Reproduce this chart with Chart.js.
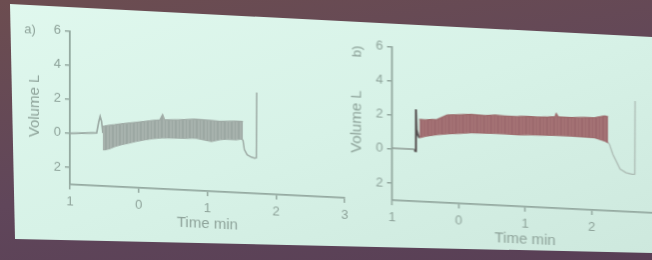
<!DOCTYPE html>
<html>
<head>
    <meta charset="utf-8" />
    <title>Volume vs time</title>
    <style>
        html, body {
            margin: 0;
            padding: 0;
            width: 652px;
            height: 260px;
            overflow: hidden;
        }
        body {
            position: relative;
            background: linear-gradient(170deg, #6c4d50 0%, #60465a 55%, #583f55 100%);
        }
        #slide {
            position: absolute;
            left: 0; top: 0;
            width: 652px; height: 260px;
            background: linear-gradient(160deg, #e0f8ee 0%, #d7f2e7 50%, #cde8dd 100%);
            clip-path: polygon(10px 4px, 652px 37px, 652px 253px, 15px 239px);
        }
        #plots {
            position: absolute;
            left: 0; top: 0;
            width: 652px; height: 260px;
            transform-origin: 0 0;
            transform: skewY(2.8deg);
            filter: blur(0.5px);
        }
        .box { position: absolute; top: 0; height: 250px; }
        #boxA { left: 0; width: 360px; }
        #boxB { left: 322px; width: 346px; }
    </style>
</head>

<body>
    <div id="slide"></div>
    <div id="plots">
        <div id="boxA" class="box"><canvas id="chartA"></canvas></div>
        <div id="boxB" class="box"><canvas id="chartB"></canvas></div>
    </div>

<script src="https://cdn.jsdelivr.net/npm/chart.js@4.4.0/dist/chart.umd.min.js"></script>
<script>
    // axes (same for both panels)
    var xTicks = [-1, 0, 1, 2, 3];
    var xTickLabels = ['1', '0', '1', '2', '3'];
    var yTicks = [-2, 0, 2, 4, 6];
    var yTickLabels = ['2', '0', '2', '4', '6'];

    // panel a) - grey trace
    var timeA_pre = [-1, -0.61, -0.58, -0.56, -0.54, -0.52];
    var volA_pre = [0.0, 0.1, 0.75, 1.07, 0.8, 0.1];
    var timeA_band = [-0.52, -0.49, -0.42, -0.35, -0.25, -0.15, -0.05, 0.09, 0.2, 0.31, 0.35, 0.38, 0.42, 0.58, 0.7, 0.82, 0.95, 1.06, 1.18, 1.3, 1.42, 1.5, 1.52];
    var volA_upper = [0.5, 0.52, 0.58, 0.62, 0.7, 0.76, 0.82, 0.91, 0.98, 1.04, 1.36, 1.05, 1.06, 1.1, 1.14, 1.19, 1.17, 1.16, 1.13, 1.15, 1.18, 1.19, 1.18];
    var volA_lower = [-0.87, -0.87, -0.78, -0.65, -0.52, -0.41, -0.3, -0.17, -0.08, -0.02, 0.0, 0.0, 0.01, 0.03, 0.05, 0.08, 0.0, -0.07, 0.05, 0.12, 0.1, 0.16, 0.1];
    var timeA_post = [1.52, 1.54, 1.58, 1.64, 1.69, 1.715, 1.72];
    var volA_post = [0.1, -0.45, -0.75, -0.88, -0.93, -0.9, 2.92];

    // panel b) - red trace
    var timeB_pre = [-1, -0.7, -0.66];
    var volB_pre = [0.05, 0.05, 0.05];
    var timeB_spike = [-0.66, -0.65, -0.64, -0.63, -0.61, -0.59];
    var volB_spike = [0.05, -0.06, 2.39, 1.2, 0.9, 0.74];
    var timeB_band = [-0.59, -0.5, -0.4, -0.32, -0.17, 0.0, 0.19, 0.4, 0.55, 0.69, 0.9, 1.05, 1.19, 1.35, 1.45, 1.47, 1.5, 1.7, 1.9, 2.05, 2.2, 2.25];
    var volB_upper = [1.81, 1.8, 1.84, 1.86, 2.15, 2.2, 2.26, 2.22, 2.28, 2.25, 2.27, 2.3, 2.29, 2.32, 2.35, 2.54, 2.36, 2.36, 2.4, 2.42, 2.55, 2.5];
    var volB_lower = [0.74, 0.85, 0.92, 0.98, 1.05, 1.12, 1.18, 1.2, 1.22, 1.22, 1.2, 1.23, 1.24, 1.26, 1.27, 1.27, 1.28, 1.28, 1.26, 1.25, 1.08, 1.0];
    var timeB_post = [2.25, 2.27, 2.32, 2.43, 2.52, 2.61, 2.65, 2.655];
    var volB_post = [1.0, 0.9, 0.33, -0.53, -0.72, -0.79, -0.78, 3.51];

    var axisColor = '#94a9a0';
    var textColor = '#8ea39a';
    var fontFamily = '"Liberation Sans", Arial, sans-serif';

    function pts(xs, ys) {
        return xs.map(function (x, i) { return { x: x, y: ys[i] }; });
    }

    // faint vertical stripes, to look like the dense breathing trace
    function stripes(c1, c2) {
        var cv = document.createElement('canvas');
        cv.width = 7; cv.height = 4;
        var g = cv.getContext('2d');
        g.fillStyle = c1; g.fillRect(0, 0, 7, 4);
        g.fillStyle = c2; g.fillRect(0, 0, 2, 4); g.fillRect(4, 0, 1, 4);
        return g.createPattern(cv, 'repeat');
    }

    // draws the small "a)" / "b)" marker
    var panelLabel = {
        id: 'panelLabel',
        afterDraw: function (chart, args, opts) {
            var ctx = chart.ctx;
            ctx.save();
            ctx.font = '13px ' + fontFamily;
            ctx.fillStyle = textColor;
            ctx.textAlign = 'center';
            ctx.textBaseline = 'middle';
            ctx.translate(opts.x, opts.y);
            if (opts.rotate) ctx.rotate(-Math.PI / 2);
            ctx.fillText(opts.text, 0, 0);
            ctx.restore();
        }
    };

    function drawPanel(id, label, datasets, padRight) {
        return new Chart(document.getElementById(id), {
            type: 'line',
            data: { datasets: datasets },
            plugins: [panelLabel],
            options: {
                responsive: true,
                maintainAspectRatio: false,
                animation: false,
                layout: { padding: { left: 0, top: 27.5, right: padRight, bottom: 0 } },
                elements: { point: { radius: 0 }, line: { tension: 0 } },
                plugins: {
                    legend: { display: false },
                    tooltip: { enabled: false },
                    panelLabel: label
                },
                scales: {
                    x: {
                        type: 'linear',
                        min: -1, max: 3,
                        afterFit: function (s) { s.height = 69; },
                        afterBuildTicks: function (s) { s.ticks = xTicks.map(function (v) { return { value: v }; }); },
                        ticks: {
                            padding: 5,
                            color: textColor,
                            font: { family: fontFamily, size: 13 },
                            maxRotation: 0,
                            callback: function (v) { return xTickLabels[xTicks.indexOf(v)]; }
                        },
                        grid: { drawOnChartArea: false, drawTicks: true, tickLength: 5, color: axisColor, lineWidth: 1.5 },
                        border: { display: true, color: axisColor, width: 1.8 },
                        title: {
                            display: true, text: 'Time min', color: textColor,
                            font: { family: fontFamily, size: 15 },
                            padding: { top: 0, bottom: 27 }
                        }
                    },
                    y: {
                        min: -3, max: 6,
                        afterFit: function (s) { s.width = 70; },
                        afterBuildTicks: function (s) { s.ticks = yTicks.map(function (v) { return { value: v }; }); },
                        ticks: {
                            padding: 4,
                            color: textColor,
                            font: { family: fontFamily, size: 13 },
                            callback: function (v) { return yTickLabels[yTicks.indexOf(v)]; }
                        },
                        grid: { drawOnChartArea: false, drawTicks: true, tickLength: 5, color: axisColor, lineWidth: 1.5 },
                        border: { display: true, color: axisColor, width: 1.8 },
                        title: {
                            display: true, text: 'Volume L', color: textColor,
                            font: { family: fontFamily, size: 15 },
                            padding: { top: 26, bottom: 0 }
                        }
                    }
                }
            }
        });
    }

    drawPanel('chartA', { text: 'a)', x: 30, y: 28, rotate: false }, [
        { data: pts(timeA_band, volA_upper), borderColor: '#a0aba6', backgroundColor: stripes('#a7b2ad', '#9ca8a3'), borderWidth: 1.3, fill: '+1' },
        { data: pts(timeA_band, volA_lower), borderColor: '#a0aba6', borderWidth: 1.3, fill: false },
        { data: pts(timeA_pre, volA_pre), borderColor: '#9aa8a2', borderWidth: 1.6, fill: false },
        { data: pts(timeA_post, volA_post), borderColor: '#9eaca6', borderWidth: 1.5, fill: false }
    ], 15);

    drawPanel('chartB', { text: 'b)', x: 35, y: 34, rotate: true }, [
        { data: pts(timeB_band, volB_upper), borderColor: '#9c6a6b', backgroundColor: stripes('#a57375', '#9c696d'), borderWidth: 1.3, fill: '+1' },
        { data: pts(timeB_band, volB_lower), borderColor: '#9c6a6b', borderWidth: 1.3, fill: false },
        { data: pts(timeB_pre, volB_pre), borderColor: '#8e9b95', borderWidth: 1.4, fill: false },
        { data: pts(timeB_spike, volB_spike), borderColor: '#555050', borderWidth: 2, fill: false },
        { data: pts(timeB_post, volB_post), borderColor: '#a9b7b0', borderWidth: 1.2, fill: false }
    ], 10);
</script>
</body>
</html>
